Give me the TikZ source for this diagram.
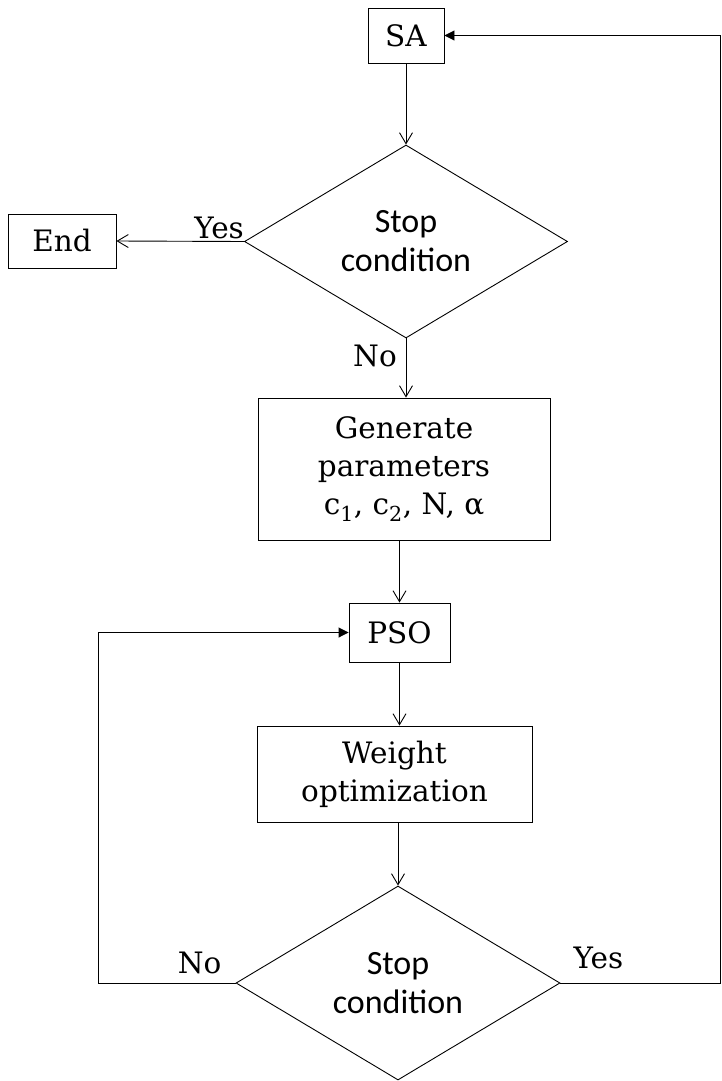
\documentclass[tikz,border=0pt]{standalone}
\usepackage{fontspec}
\setmainfont{DejaVu Serif}
\newfontfamily\calib{Carlito}
\usetikzlibrary{shapes.geometric,arrows.meta}
\begin{document}
\begin{tikzpicture}[x=1pt,y=-1pt,
  box/.style={draw,line width=0.9pt,inner sep=0pt,align=center,font=\fontsize{29.5}{38}\selectfont},
  dec/.style={draw,diamond,line width=0.9pt,inner sep=0pt,align=center,aspect=1.67,font=\calib\fontsize{34}{39}\selectfont},
  lbl/.style={inner sep=0pt,font=\fontsize{29.5}{38}\selectfont},
  conn/.style={line width=0.9pt},
  openarr/.style={-{Straight Barb[length=11pt,width=13pt]}},
  fillarr/.style={-{Triangle[length=10pt,width=10pt]}}
]
\path[use as bounding box] (0,0) rectangle (721,1081);
\node[box,minimum width=76pt,minimum height=55pt] (sa) at (406,35.5) {SA};
\node[dec,minimum width=323pt,minimum height=193pt] (d1) at (406,241.5) {Stop\\condition};
\node[box,minimum width=108pt,minimum height=54pt] (end) at (62,241) {End};
\node[box,minimum width=292pt,minimum height=142pt] (gen) at (404,469) {Generate\\parameters\\c\textsubscript{1}, c\textsubscript{2}, N, α};
\node[box,minimum width=101pt,minimum height=59pt] (pso) at (399.5,632.5) {PSO};
\node[box,minimum width=275pt,minimum height=96pt] (wo) at (394.5,774) {Weight\\optimization};
\node[dec,minimum width=324pt,minimum height=194pt] (d2) at (398,983) {Stop\\condition};
\coordinate (lx) at (98,0);
\coordinate (rx) at (720,0);
% connectors
\draw[conn,openarr] (sa.south) -- (d1.north);
\draw[conn,openarr] (d1.west) -- (end.east);
\draw[conn,openarr] (d1.south) -- (d1.south |- gen.north);
\draw[conn,openarr] (gen.south -| pso.north) -- (pso.north);
\draw[conn,openarr] (pso.south) -- (pso.south |- wo.north);
\draw[conn,openarr] (wo.south -| d2.north) -- (d2.north);
\draw[conn,fillarr] (d2.west) -- (d2.west -| lx) -- (lx |- pso.west) -- (pso.west);
\draw[conn,fillarr] (d2.east) -- (d2.east -| rx) -- (rx |- sa.east) -- (sa.east);
% labels
\node[lbl,anchor=base east,yshift=3.5pt] (yes1) at (d1.west) {Yes};
\node[lbl,anchor=base east,xshift=-9pt,yshift=-28pt] (no1) at (d1.south) {No};
\node[lbl,anchor=base east,xshift=-14pt,yshift=10pt] (no2) at (d2.west) {No};
\node[lbl,anchor=base west,xshift=13pt,yshift=15pt] (yes2) at (d2.east) {Yes};
\end{tikzpicture}
\end{document}
